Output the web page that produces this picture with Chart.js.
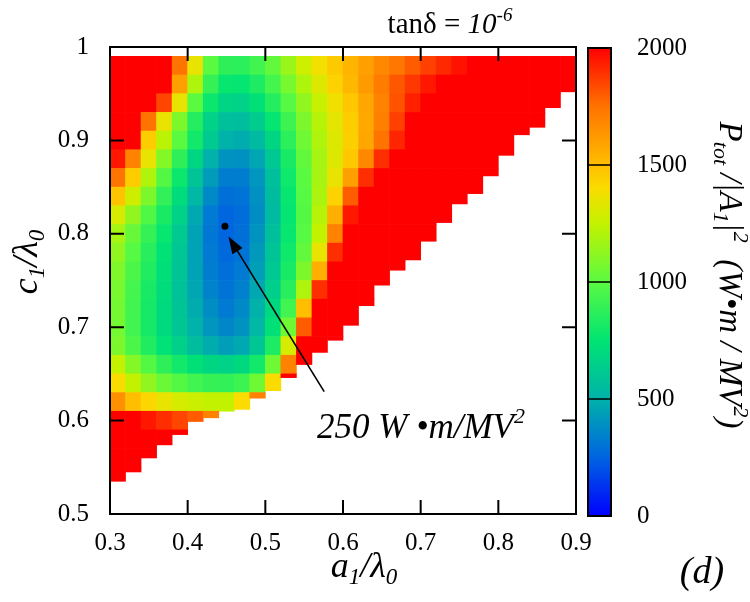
<!DOCTYPE html>
<html>
<head>
<meta charset="utf-8">
<title>P_tot / |A1|^2 map</title>
<script src="https://cdn.jsdelivr.net/npm/chart.js@4/dist/chart.umd.min.js"></script>
<style>
  body { margin: 0; background: #fff; }
  #wrap { position: relative; width: 750px; height: 602px; }
  #wrap canvas { position: absolute; top: 0; }
  #mapChart { left: 0; }
  #barChart { left: 560px; }
</style>
</head>
<body>
<div id="wrap">
  <canvas id="mapChart" width="750" height="602"></canvas>
  <canvas id="barChart" width="190" height="602"></canvas>
</div>
<script>
// a1/lambda0 at the centre of each column
const aCols = [0.31, 0.33, 0.35, 0.37, 0.39, 0.41, 0.43, 0.45, 0.47, 0.49,
               0.51, 0.53, 0.55, 0.57, 0.59, 0.61, 0.63, 0.65, 0.67, 0.69,
               0.71, 0.73, 0.75, 0.77, 0.79, 0.81, 0.83, 0.85, 0.87, 0.89];

// c1/lambda0 at the centre of each row, top row first
const cRows = [0.98, 0.96, 0.94, 0.92, 0.90, 0.88, 0.86, 0.84, 0.82, 0.80, 0.78, 0.76,
               0.74, 0.72, 0.70, 0.68, 0.66, 0.64, 0.62, 0.60, 0.58, 0.56, 0.54];

// lowest c1/lambda0 that was computed in each column
const cFloor = [0.535, 0.545, 0.560, 0.574, 0.585, 0.599, 0.603, 0.610, 0.612, 0.624,
                0.632, 0.646, 0.660, 0.673, 0.686, 0.702, 0.723, 0.745, 0.761, 0.772,
                0.792, 0.812, 0.832, 0.843, 0.862, 0.884, 0.906, 0.914, 0.935, 0.952];

// P_tot/|A1|^2 in W*m/MV^2, one list per row (columns beyond a row's length were not computed)
const pTot = [
  [2000, 2000, 2000, 2000, 1750, 1350, 1000, 880, 870, 930, 1020, 1150, 1280, 1380, 1460, 1530, 1600, 1680, 1740, 1800, 1860, 1910, 1960, 2000, 2000, 2000, 2000, 2000, 2000, 2000],
  [2000, 2000, 2000, 2000, 1600, 1200, 900, 770, 760, 830, 940, 1070, 1200, 1320, 1430, 1520, 1620, 1720, 1810, 1880, 1950, 2000, 2000, 2000, 2000, 2000, 2000, 2000, 2000, 2000],
  [2000, 2000, 2000, 1850, 1350, 1000, 780, 670, 660, 730, 850, 990, 1130, 1260, 1370, 1470, 1580, 1700, 1820, 1930, 2000, 2000, 2000, 2000, 2000, 2000, 2000, 2000, 2000],
  [2000, 2000, 1750, 1350, 1080, 850, 660, 570, 560, 630, 760, 920, 1080, 1220, 1340, 1450, 1570, 1710, 1860, 2000, 2000, 2000, 2000, 2000, 2000, 2000, 2000, 2000],
  [2000, 2000, 1450, 1230, 1000, 800, 620, 500, 480, 540, 680, 870, 1050, 1200, 1320, 1440, 1580, 1750, 1920, 2000, 2000, 2000, 2000, 2000, 2000, 2000, 2000],
  [1950, 1700, 1350, 1100, 880, 680, 500, 400, 390, 460, 610, 820, 1020, 1180, 1320, 1470, 1680, 1900, 2000, 2000, 2000, 2000, 2000, 2000, 2000, 2000],
  [1750, 1450, 1200, 980, 780, 590, 430, 330, 330, 410, 570, 790, 1000, 1180, 1350, 1600, 1900, 2000, 2000, 2000, 2000, 2000, 2000, 2000, 2000],
  [1480, 1280, 1080, 890, 710, 530, 370, 290, 300, 390, 550, 770, 990, 1190, 1430, 1800, 2000, 2000, 2000, 2000, 2000, 2000, 2000, 2000],
  [1300, 1130, 970, 820, 660, 470, 320, 255, 280, 380, 540, 760, 980, 1220, 1550, 1950, 2000, 2000, 2000, 2000, 2000, 2000],
  [1180, 1030, 900, 770, 620, 450, 310, 255, 290, 400, 570, 770, 990, 1250, 1700, 2000, 2000, 2000, 2000, 2000, 2000],
  [1130, 990, 860, 740, 600, 450, 320, 270, 300, 420, 590, 790, 1020, 1350, 1900, 2000, 2000, 2000, 2000, 2000],
  [1090, 960, 840, 720, 590, 450, 330, 285, 320, 440, 610, 820, 1080, 1550, 2000, 2000, 2000, 2000, 2000],
  [1070, 940, 820, 710, 580, 460, 350, 300, 340, 470, 640, 860, 1200, 1900, 2000, 2000, 2000, 2000],
  [1060, 930, 810, 700, 590, 480, 380, 320, 370, 500, 690, 930, 1500, 2000, 2000, 2000, 2000],
  [1060, 930, 810, 700, 600, 500, 410, 360, 400, 530, 730, 1050, 1800, 2000, 2000, 2000],
  [1080, 960, 840, 740, 650, 560, 480, 440, 470, 600, 830, 1300, 2000, 2000, 2000],
  [1250, 1100, 980, 880, 800, 730, 680, 660, 690, 800, 1050, 1700, 2000],
  [1400, 1250, 1130, 1040, 980, 930, 900, 890, 920, 1050, 1400, 2000],
  [1650, 1500, 1420, 1350, 1300, 1270, 1250, 1250, 1400, 1700],
  [2000, 2000, 1950, 1900, 1850, 1800, 1700],
  [2000, 2000, 2000, 2000, 2000],
  [2000, 2000, 2000],
  [2000, 2000]
];

// optimum point and its value
const optA = 0.448, optC = 0.808, optP = 250;

const scaleMax = 2000;
const cellH = 0.02;

// colour scale: value, r, g, b
const jet = [
  [0, 0, 0, 255],
  [250, 0, 100, 225],
  [500, 0, 178, 170],
  [750, 0, 228, 115],
  [1000, 90, 250, 65],
  [1250, 195, 242, 0],
  [1400, 250, 220, 0],
  [1500, 255, 190, 0],
  [1750, 255, 115, 0],
  [2000, 255, 0, 0]
];

function colorFor(p) {
  const v = Math.min(Math.max(p, 0), scaleMax);
  for (let k = 1; k < jet.length; k++) {
    if (v <= jet[k][0]) {
      const a = jet[k - 1], b = jet[k];
      const t = (v - a[0]) / (b[0] - a[0]);
      const ch = i => Math.round(a[i] + (b[i] - a[i]) * t);
      return `rgb(${ch(1)}, ${ch(2)}, ${ch(3)})`;
    }
  }
  return 'rgb(255, 0, 0)';
}

const cells = [];
const cellColors = [];
pTot.forEach((row, r) => {
  row.forEach((p, i) => {
    const top = cRows[r] + cellH / 2;
    const bottom = Math.max(cRows[r] - cellH / 2, cFloor[i]);
    cells.push({ x: aCols[i], y: [bottom, top] });
    cellColors.push(colorFor(p));
  });
});

const SERIF = "'Liberation Serif', 'Times New Roman', serif";
Chart.defaults.font.family = SERIF;
Chart.defaults.color = '#000';

// runs: [text, size, italic, baseline shift]
function drawRuns(ctx, runs, x, y, align) {
  const fontOf = r => (r[2] ? 'italic ' : '') + r[1] + 'px ' + SERIF;
  let w = 0;
  runs.forEach(r => { ctx.font = fontOf(r); w += ctx.measureText(r[0]).width; });
  let cx = align === 'center' ? x - w / 2 : x;
  ctx.textAlign = 'left';
  ctx.textBaseline = 'alphabetic';
  runs.forEach(r => {
    ctx.font = fontOf(r);
    ctx.fillText(r[0], cx, y + (r[3] || 0));
    cx += ctx.measureText(r[0]).width;
  });
}

const mapDecor = {
  id: 'mapDecor',
  afterDatasetsDraw(chart) {
    const { ctx, scales: { x, y } } = chart;
    // arrow from the label to the optimum
    const x0 = x.getPixelForValue(0.5758), y0 = y.getPixelForValue(0.631);
    const x1 = x.getPixelForValue(0.4526), y1 = y.getPixelForValue(0.797);
    const ang = Math.atan2(y1 - y0, x1 - x0);
    const head = 17, half = 6;
    ctx.save();
    ctx.strokeStyle = '#000';
    ctx.fillStyle = '#000';
    ctx.lineWidth = 1.6;
    ctx.beginPath();
    ctx.moveTo(x0, y0);
    ctx.lineTo(x1 - Math.cos(ang) * head * 0.8, y1 - Math.sin(ang) * head * 0.8);
    ctx.stroke();
    ctx.beginPath();
    ctx.moveTo(x1, y1);
    ctx.lineTo(x1 - Math.cos(ang) * head - Math.sin(ang) * half, y1 - Math.sin(ang) * head + Math.cos(ang) * half);
    ctx.lineTo(x1 - Math.cos(ang) * head + Math.sin(ang) * half, y1 - Math.sin(ang) * head - Math.cos(ang) * half);
    ctx.closePath();
    ctx.fill();
    ctx.restore();
  },
  afterDraw(chart) {
    const { ctx, chartArea: ca, scales: { x, y } } = chart;
    ctx.save();
    ctx.strokeStyle = '#000';
    ctx.lineWidth = 2;
    ctx.strokeRect(ca.left, ca.top, ca.right - ca.left, ca.bottom - ca.top);
    ctx.beginPath();
    x.ticks.forEach(t => {
      const px = x.getPixelForValue(t.value);
      ctx.moveTo(px, ca.bottom); ctx.lineTo(px, ca.bottom - 14);
      ctx.moveTo(px, ca.top); ctx.lineTo(px, ca.top + 14);
    });
    y.ticks.forEach(t => {
      const py = y.getPixelForValue(t.value);
      ctx.moveTo(ca.left, py); ctx.lineTo(ca.left + 14, py);
      ctx.moveTo(ca.right, py); ctx.lineTo(ca.right - 14, py);
    });
    ctx.stroke();

    ctx.fillStyle = '#000';
    drawRuns(ctx, [['tan\u03B4 = ', 29, false], ['10', 29, true], ['-6', 19, true, -12]], 450, 33, 'center');
    drawRuns(ctx, [['a', 36, true], ['1', 23, true, 7], ['/\u03BB', 36, true], ['0', 23, true, 7]], 364, 577, 'center');
    drawRuns(ctx, [['(d)', 38, true]], 702, 583, 'center');
    drawRuns(ctx, [[optP + ' W \u2022m/MV', 35, true], ['2', 22, true, -15]], 317, 438, 'left');

    ctx.save();
    ctx.translate(37, 262);
    ctx.rotate(-Math.PI / 2);
    drawRuns(ctx, [['c', 36, true], ['1', 23, true, 7], ['/\u03BB', 36, true], ['0', 23, true, 7]], 0, 0, 'center');
    ctx.restore();

    ctx.save();
    ctx.translate(720, 275);
    ctx.rotate(Math.PI / 2);
    drawRuns(ctx, [
      ['P', 33, true], ['tot', 22, true, 6], [' /|A', 33, true], ['1', 22, true, 6], ['|', 33, true],
      ['2', 22, true, -14], ['  (W\u2022m / MV', 33, true], ['2', 22, true, -14], [')', 33, true]
    ], 0, 0, 'center');
    ctx.restore();
    ctx.restore();
  }
};

new Chart(document.getElementById('mapChart'), {
  type: 'bar',
  data: {
    datasets: [
      {
        data: cells,
        backgroundColor: cellColors,
        borderWidth: 0,
        barPercentage: 1,
        categoryPercentage: 1
      },
      {
        type: 'scatter',
        data: [{ x: optA, y: optC }],
        pointRadius: 3.5,
        backgroundColor: '#000',
        borderWidth: 0,
        order: -1
      }
    ]
  },
  options: {
    responsive: false,
    animation: false,
    layout: { padding: { top: 47, right: 174, left: 0, bottom: 0 } },
    plugins: { legend: { display: false }, tooltip: { enabled: false } },
    scales: {
      x: {
        type: 'linear',
        min: 0.3,
        max: 0.9,
        offset: false,
        grid: { display: false, drawTicks: false, offset: false },
        border: { display: false },
        ticks: { stepSize: 0.1, padding: 14, font: { size: 25 }, callback: v => +v.toFixed(2) },
        afterFit: s => { s.height = 88; }
      },
      y: {
        type: 'linear',
        min: 0.5,
        max: 1,
        grid: { display: false, drawTicks: false },
        border: { display: false },
        ticks: { stepSize: 0.1, padding: 21, font: { size: 25 }, callback: v => +v.toFixed(2) },
        afterFit: s => { s.width = 110; }
      }
    }
  },
  plugins: [mapDecor]
});

// colour bar: one floating bar from 0 to the top of the scale, filled with the colour ramp
const barDecor = {
  id: 'barDecor',
  afterDatasetsDraw(chart) {
    const { ctx, chartArea: ca, scales: { y } } = chart;
    ctx.save();
    ctx.strokeStyle = '#000';
    ctx.lineWidth = 1.5;
    ctx.beginPath();
    y.ticks.forEach(t => {
      if (t.value <= 0 || t.value >= scaleMax) return;
      const py = y.getPixelForValue(t.value);
      ctx.moveTo(ca.left, py); ctx.lineTo(ca.right, py);
    });
    ctx.stroke();
    ctx.lineWidth = 2;
    ctx.strokeRect(ca.left, ca.top, ca.right - ca.left, ca.bottom - ca.top);
    ctx.restore();
  }
};

function rampFill(c) {
  const sy = c.chart.scales.y;
  const y0 = sy ? sy.getPixelForValue(0) : NaN;
  const y1 = sy ? sy.getPixelForValue(scaleMax) : NaN;
  if (!isFinite(y0) || !isFinite(y1) || y0 === y1) return '#ffffff';
  const g = c.chart.ctx.createLinearGradient(0, y0, 0, y1);
  jet.forEach(s => g.addColorStop(s[0] / scaleMax, `rgb(${s[1]}, ${s[2]}, ${s[3]})`));
  return g;
}

new Chart(document.getElementById('barChart'), {
  type: 'bar',
  data: {
    labels: [''],
    datasets: [{
      data: [[0, scaleMax]],
      borderWidth: 0,
      barPercentage: 1,
      categoryPercentage: 1,
      backgroundColor: rampFill
    }]
  },
  options: {
    responsive: false,
    animation: false,
    layout: { padding: { left: 28, top: 48, bottom: 86, right: 0 } },
    plugins: { legend: { display: false }, tooltip: { enabled: false } },
    scales: {
      x: { display: false },
      y: {
        position: 'right',
        min: 0,
        max: scaleMax,
        grid: { display: false, drawTicks: false },
        border: { display: false },
        ticks: { stepSize: 500, padding: 26, font: { size: 25 }, callback: v => String(v) },
        afterFit: s => { s.width = 139; }
      }
    }
  },
  plugins: [barDecor]
});
</script>
</body>
</html>
